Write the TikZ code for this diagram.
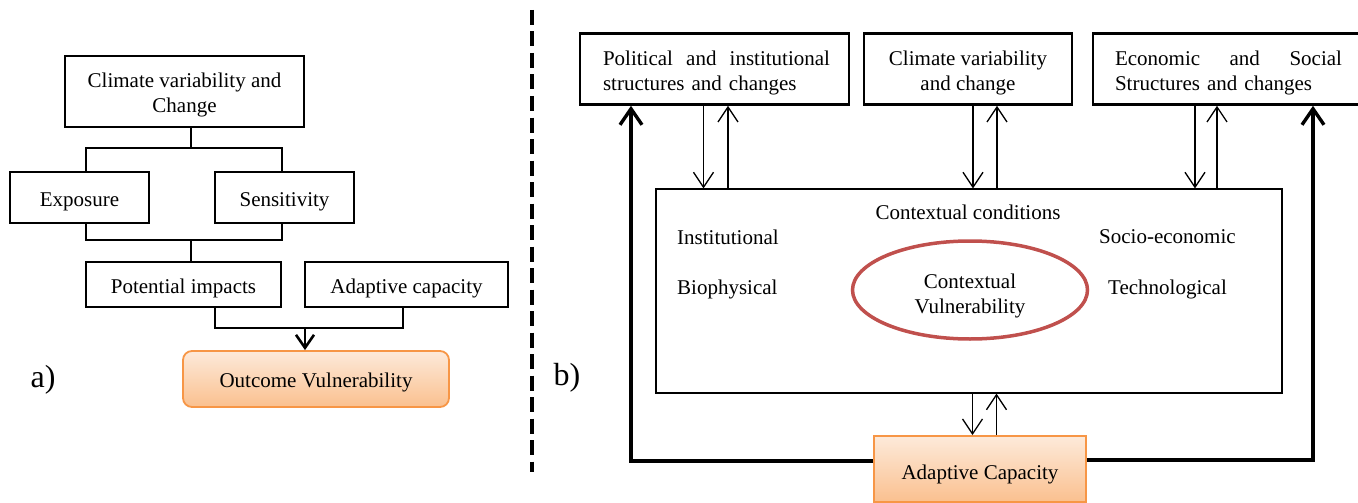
\documentclass[tikz,border=0pt]{standalone}
\usepackage{fontspec}
\setmainfont{Liberation Serif}
\usetikzlibrary{arrows.meta,shapes.geometric}
\definecolor{orgborder}{RGB}{247,150,70}
\definecolor{orgtop}{RGB}{253,234,218}
\definecolor{orgbot}{RGB}{250,192,143}
\definecolor{ellred}{RGB}{192,80,77}
\newcommand\fsz{\fontsize{21}{25}\selectfont}
\newcommand\fbig{\fontsize{32}{36}\selectfont}
\tikzset{
  txt/.style={inner sep=0pt, align=center, font=\fsz},
  thickbox/.style={draw, line width=2.6pt, inner sep=0pt},
  thinbox/.style={draw, line width=1.2pt, inner sep=0pt},
  orangebox/.style={draw=orgborder, line width=1.8pt, top color=orgtop, bottom color=orgbot, inner sep=0pt},
  lbl/.style={inner sep=0pt, font=\fsz},
  thinarr/.style={line width=1.3pt, -{Straight Barb[length=15pt,width=20pt]}},
  thickarr/.style={line width=3.4pt, -{Straight Barb[length=16pt,width=22pt]}},
  conn/.style={line width=2.6pt},
}
\begin{document}
\begin{tikzpicture}[x=1pt,y=-1pt]
\useasboundingbox (0,0) rectangle (1358,503);
\clip (0,0) rectangle (1358,503);
% ---------- panel a ----------
\node[thickbox, minimum width=239pt, minimum height=71pt,
  label={[txt, yshift=-3pt]center:{Climate variability and\\Change}}] (cvc) at (184.5,91.5) {};
\node[thickbox, minimum width=139pt, minimum height=51pt,
  label={[txt, yshift=-4pt]center:Exposure}] (exp) at (79.5,197.5) {};
\node[thickbox, minimum width=139pt, minimum height=51pt,
  label={[txt, yshift=-4pt]center:Sensitivity}] (sen) at (284.5,197.5) {};
\node[thinbox, minimum width=195pt, minimum height=45pt,
  label={[txt, yshift=-4pt]center:Potential impacts}] (pot) at (183.5,284.5) {};
\node[thinbox, minimum width=203pt, minimum height=45pt,
  label={[txt, yshift=-4pt]center:Adaptive capacity}] (adc) at (406.5,284.5) {};
\node[orangebox, rounded corners=9pt, minimum width=266pt, minimum height=56pt,
  label={[txt, yshift=-3pt]center:Outcome Vulnerability}] (out) at (316,379) {};
\node[inner sep=0pt, font=\fbig] (la) at (43,380) {a)};
\coordinate (t1) at (191,148); \coordinate (tl) at (86,148); \coordinate (tr) at (282,148);
\coordinate (b1) at (191,240); \coordinate (bl) at (86,240); \coordinate (br) at (282,240);
\coordinate (c1) at (215,328); \coordinate (c2) at (403,328); \coordinate (c0) at (305,328);
\draw[conn] (cvc.south -| t1) -- (t1);
\draw[conn] (exp.north -| tl) -- (tl) -- (tr) -- (sen.north -| tr);
\draw[conn] (exp.south -| bl) -- (bl) -- (br) -- (sen.south -| br);
\draw[conn] (b1) -- (pot.north -| b1);
\draw[conn] (pot.south -| c1) -- (c1) -- (c2) -- (adc.south -| c2);
\draw[line width=2.6pt, -{Straight Barb[length=13pt,width=18pt]}] (c0) -- (out.north -| c0);
% ---------- divider ----------
\coordinate (d1) at (532,10); \coordinate (d2) at (532,472);
\draw[line width=4pt, dash pattern=on 15pt off 6.5pt] (d1) -- (d2);
\node[inner sep=0pt, font=\fbig] (lb) at (567,378) {b)};
% ---------- panel b ----------
\node[thickbox, minimum width=269pt, minimum height=71pt] (pol) at (714.5,69) {};
\node[lbl, text width=227pt] (poltxt) at (716.5,72.5) {Political\hfill and\hfill institutional\\structures and changes};
\node[thickbox, minimum width=208pt, minimum height=71pt,
  label={[txt, yshift=-3.5pt]center:{Climate variability\\and change}}] (clim) at (968,69) {};
\node[thickbox, minimum width=272pt, minimum height=71pt] (eco) at (1229,69) {};
\node[lbl, text width=227pt] (ecotxt) at (1228.5,73) {Economic\hfill and\hfill Social\\Structures and changes};
\node[thinbox, minimum width=626pt, minimum height=204pt] (ctx) at (969,291) {};
\node[lbl] (cc) at (968,212) {Contextual conditions};
\node[lbl, anchor=west] (inst) at (677,237) {Institutional};
\node[lbl, anchor=west] (bio) at (677,289) {Biophysical};
\node[lbl, anchor=west] (soc) at (1099,237) {Socio-economic};
\node[lbl, anchor=west] (tech) at (1108,289) {Technological};
\node[ellipse, draw=ellred, line width=3.5pt, minimum width=235pt, minimum height=98pt, inner sep=0pt,
  label={[txt, yshift=-6pt]center:{Contextual\\Vulnerability}}] (cv) at (970,290) {};
\node[orangebox, minimum width=212pt, minimum height=66pt,
  label={[txt, yshift=-5pt]center:Adaptive Capacity}] (acap) at (980,469) {};
% arrows top boxes <-> context
\coordinate (p1) at (703.5,0); \coordinate (p2) at (728,0);
\coordinate (k1) at (973,0); \coordinate (k2) at (997,0);
\coordinate (e1) at (1195,0); \coordinate (e2) at (1217,0);
\coordinate (a1) at (972.5,0); \coordinate (a2) at (996.5,0);
\draw[thinarr] (pol.south -| p1) -- (ctx.north -| p1);
\draw[thinarr] (ctx.north -| p2) -- (pol.south -| p2);
\draw[thinarr] (clim.south -| k1) -- (ctx.north -| k1);
\draw[thinarr] (ctx.north -| k2) -- (clim.south -| k2);
\draw[thinarr] (eco.south -| e1) -- (ctx.north -| e1);
\draw[thinarr] (ctx.north -| e2) -- (eco.south -| e2);
\draw[thinarr] (ctx.south -| a1) -- (acap.north -| a1);
\draw[thinarr] (acap.north -| a2) -- (ctx.south -| a2);
% feedback loops
\coordinate (lc) at (631,461); \coordinate (rc) at (1313,460);
\draw[thickarr] (acap.west |- lc) -- (lc) -- (pol.south -| lc);
\draw[thickarr] (acap.east |- rc) -- (rc) -- (eco.south -| rc);
\end{tikzpicture}
\end{document}
